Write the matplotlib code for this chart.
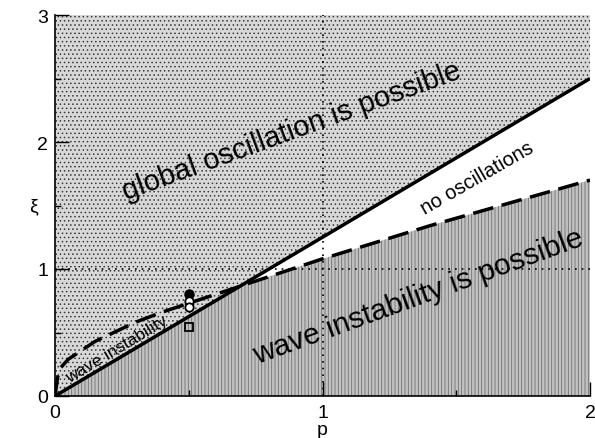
import numpy as np
import matplotlib
matplotlib.use("Agg")
import matplotlib.pyplot as plt

plt.rcParams['font.family'] = ['Liberation Sans', 'DejaVu Sans']
plt.rcParams['hatch.linewidth'] = 0.6

# boundary between "global oscillation" and the rest (solid line)
solid_p = [0.0, 2.0]
solid_xi = [0.0, 2.5]

# wave-instability threshold (dashed curve)
dash_p = [0.0, 0.01, 0.02, 0.05, 0.1, 0.15, 0.2, 0.25, 0.3, 0.4, 0.5, 0.6,
          0.7, 0.8, 0.9, 1.0, 1.2, 1.4, 1.6, 1.8, 2.0]
dash_xi = [0.0, 0.15, 0.22, 0.29, 0.36, 0.43, 0.48, 0.53, 0.58, 0.66, 0.73, 0.80,
           0.87, 0.94, 1.01, 1.08, 1.21, 1.34, 1.46, 1.58, 1.70]

# markers at p = 0.5
filled_p, filled_xi = [0.5], [0.80]
open_p, open_xi = [0.5, 0.5], [0.75, 0.70]
square_p, square_xi = [0.5], [0.545]

xticks = [0, 1, 2]
yticks = [0, 1, 2, 3]

fig = plt.figure(figsize=(5.95, 4.39), dpi=100)
ax = fig.add_axes([55/595, 42/439, 535/595, 381/439])

dp = np.array(dash_p)
dx = np.array(dash_xi)
solid_on_dash = np.interp(dp, solid_p, solid_xi)

# regions
ax.fill_between(solid_p, solid_xi, [3, 3], facecolor='#d8d8d8', edgecolor='#3a3a3a',
                hatch='....', linewidth=0, zorder=1)
ax.fill_between(dp, 0, np.minimum(dx, solid_on_dash), facecolor='#c2c2c2',
                edgecolor='#707070', hatch='|||||', linewidth=0, zorder=1)

# reference lines
ax.axhline(1, color='black', linestyle=(0, (1, 3)), linewidth=1.2, zorder=2)
ax.axvline(1, color='black', linestyle=(0, (1, 3)), linewidth=1.2, zorder=2)

# boundaries
ax.plot(solid_p, solid_xi, color='black', linewidth=2.5, zorder=3, solid_capstyle='butt')
ax.plot(dp, dx, color='black', linewidth=2.5, linestyle=(0, (6, 2.5)), zorder=3)

# markers
ax.plot(filled_p, filled_xi, 'o', color='black', markersize=6.5, zorder=4)
ax.plot(open_p, open_xi, 'o', mfc='white', mec='black', markersize=6, mew=1.3, zorder=4)
ax.plot(square_p, square_xi, 's', mfc='none', mec='black', markersize=6, mew=1.3, zorder=4)

# labels in regions
ax.text(0.886, 2.09, 'global oscillation is possible', fontsize=21, rotation=20,
        ha='center', va='center', rotation_mode='anchor', zorder=5)
ax.text(1.357, 0.79, 'wave instability is possible', fontsize=21.5, rotation=20,
        ha='center', va='center', rotation_mode='anchor', zorder=5)
ax.text(1.58, 1.72, 'no oscillations', fontsize=14.5, rotation=30,
        ha='center', va='center', rotation_mode='anchor', zorder=5)
ax.text(0.232, 0.37, 'wave instability', fontsize=12.3, rotation=31,
        ha='center', va='center', rotation_mode='anchor', zorder=5)

ax.set_xlim(0, 2)
ax.set_ylim(0, 3)
ax.set_xticks(xticks)
ax.set_yticks(yticks)
ax.set_xticks([0.5, 1.5], minor=True)
ax.set_yticks([0.5, 1.5, 2.5], minor=True)
ax.tick_params(which='major', direction='in', length=10, width=1, labelsize=14,
               top=False, right=False)
ax.tick_params(axis='x', which='major', pad=5.5)
ax.tick_params(axis='y', which='major', pad=5)
ax.tick_params(which='minor', direction='in', length=4, width=1, top=False, right=False)
for s in ['top', 'right']:
    ax.spines[s].set_visible(False)
for s in ['left', 'bottom']:
    ax.spines[s].set_linewidth(1.2)
    ax.spines[s].set_zorder(6)

ax.set_xlabel('p', fontsize=14, labelpad=0)
ax.set_ylabel('ξ', fontsize=14, rotation=0, labelpad=3, va='center')

fig.savefig('out.png', dpi=100)
